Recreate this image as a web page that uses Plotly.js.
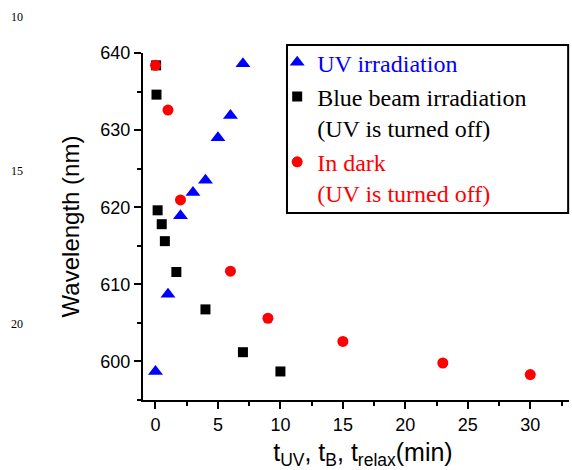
<!DOCTYPE html>
<html>
<head>
<meta charset="utf-8">
<script src="https://cdn.plot.ly/plotly-3.0.1.min.js"></script>
<style>
  html, body { margin: 0; padding: 0; background: #fff; }
  #chart { width: 572px; height: 470px; }
</style>
</head>
<body>
<div id="chart"></div>
<script>
// ---- data ----
const uvTime = [0, 1, 2, 3, 4, 5, 6, 7];
const uvWavelength = [598.7, 608.7, 618.9, 621.9, 623.5, 629.0, 631.9, 638.6];

const blueTime = [0.05, 0.08, 0.17, 0.5, 0.75, 1.67, 4, 7, 10];
const blueWavelength = [638.4, 634.6, 619.6, 617.8, 615.6, 611.6, 606.75, 601.2, 598.7];

const darkTime = [0, 1, 2, 6, 9, 15, 23, 30];
const darkWavelength = [638.4, 632.6, 620.95, 611.7, 605.6, 602.6, 599.8, 598.3];

const xTickVals = [0, 5, 10, 15, 20, 25, 30];
const yTickVals = [600, 610, 620, 630, 640];

const lineNumbers = ['10', '15', '20'];
const lineNumberY = [1.104, 0.660, 0.219];

const traces = [
  {
    x: uvTime, y: uvWavelength, type: 'scatter', mode: 'markers',
    name: '<span style="color:#0000ff">UV irradiation</span>',
    marker: { symbol: 'triangle-up', size: 13, color: '#0000ff' }
  },
  {
    x: blueTime, y: blueWavelength, type: 'scatter', mode: 'markers',
    name: 'Blue beam irradiation<br>(UV is turned off)',
    marker: { symbol: 'square', size: 10, color: '#000000' }
  },
  {
    x: darkTime, y: darkWavelength, type: 'scatter', mode: 'markers',
    name: '<span style="color:#ff0000">In dark</span><br><span style="color:#ff0000">(UV is turned off)</span>',
    marker: { symbol: 'circle', size: 11, color: '#ff0000' }
  }
];

const tickFont = { family: 'Liberation Sans, Arial, sans-serif', size: 18, color: '#000' };

const layout = {
  width: 572, height: 470,
  margin: { l: 143, r: 3, t: 53, b: 70 },
  paper_bgcolor: '#fff', plot_bgcolor: '#fff',
  font: { color: '#000' },
  showlegend: true,
  legend: {
    x: 0.315, y: 1.037, xanchor: 'left', yanchor: 'top',
    bgcolor: 'rgba(0,0,0,0)', borderwidth: 0,
    font: { family: 'Liberation Serif, Times New Roman, serif', size: 24, color: '#000' },
    valign: 'top', itemwidth: 30
  },
  xaxis: {
    range: [-1, 33.1], showgrid: false, zeroline: false,
    showline: true, linecolor: '#000', linewidth: 2,
    ticks: 'outside', ticklen: 7, tickwidth: 2, tickcolor: '#000',
    tickvals: xTickVals, ticktext: xTickVals.map(String),
    tickfont: tickFont,
    minor: { dtick: 2.5, tick0: 0, ticks: 'outside', ticklen: 4, tickwidth: 2, tickcolor: '#000', showgrid: false },
    title: {
      text: '&nbsp;&nbsp;t<sub>UV</sub>, t<sub>B</sub>, t<sub>relax</sub>(min)',
      font: { family: 'Liberation Sans, Arial, sans-serif', size: 25, color: '#000' },
      standoff: 10
    }
  },
  yaxis: {
    range: [595, 640], showgrid: false, zeroline: false,
    showline: true, linecolor: '#000', linewidth: 2,
    ticks: 'outside', ticklen: 7, tickwidth: 2, tickcolor: '#000',
    tickvals: yTickVals, ticktext: yTickVals.map(String),
    tickfont: tickFont,
    minor: { dtick: 5, tick0: 595, ticks: 'outside', ticklen: 4, tickwidth: 2, tickcolor: '#000', showgrid: false },
    title: {
      text: 'Wavelength (nm)',
      font: { family: 'Liberation Sans, Arial, sans-serif', size: 24, color: '#000' },
      standoff: 14
    }
  },
  xaxis2: {
    overlaying: 'x', side: 'top', anchor: 'y', range: [-1, 33.1],
    showgrid: false, zeroline: false, showline: true, linecolor: '#000', linewidth: 2,
    ticks: 'inside', ticklen: 4, tickwidth: 2, tickcolor: '#000', dtick: 2.5, tick0: 0,
    showticklabels: false
  },
  yaxis2: {
    overlaying: 'y', side: 'right', anchor: 'x', range: [595, 640],
    showgrid: false, zeroline: false, showline: true, linecolor: '#000', linewidth: 2,
    ticks: 'inside', ticklen: 4, tickwidth: 2, tickcolor: '#000', dtick: 5, tick0: 595,
    showticklabels: false
  },
  shapes: [
    {
      type: 'rect', xref: 'paper', yref: 'paper', layer: 'above',
      x0: 0.338, x1: 0.998, y0: 0.539, y1: 1.023,
      fillcolor: '#fff', line: { color: '#000', width: 2 }
    }
  ],
  annotations: lineNumbers.map((t, i) => ({
    text: t, xref: 'paper', yref: 'paper', x: -0.296, y: lineNumberY[i],
    xanchor: 'center', yanchor: 'middle', showarrow: false,
    font: { family: 'Liberation Serif, Times New Roman, serif', size: 12, color: '#000000' }
  }))
};

Plotly.newPlot('chart', traces, layout, { displayModeBar: false, staticPlot: true });
</script>
</body>
</html>
